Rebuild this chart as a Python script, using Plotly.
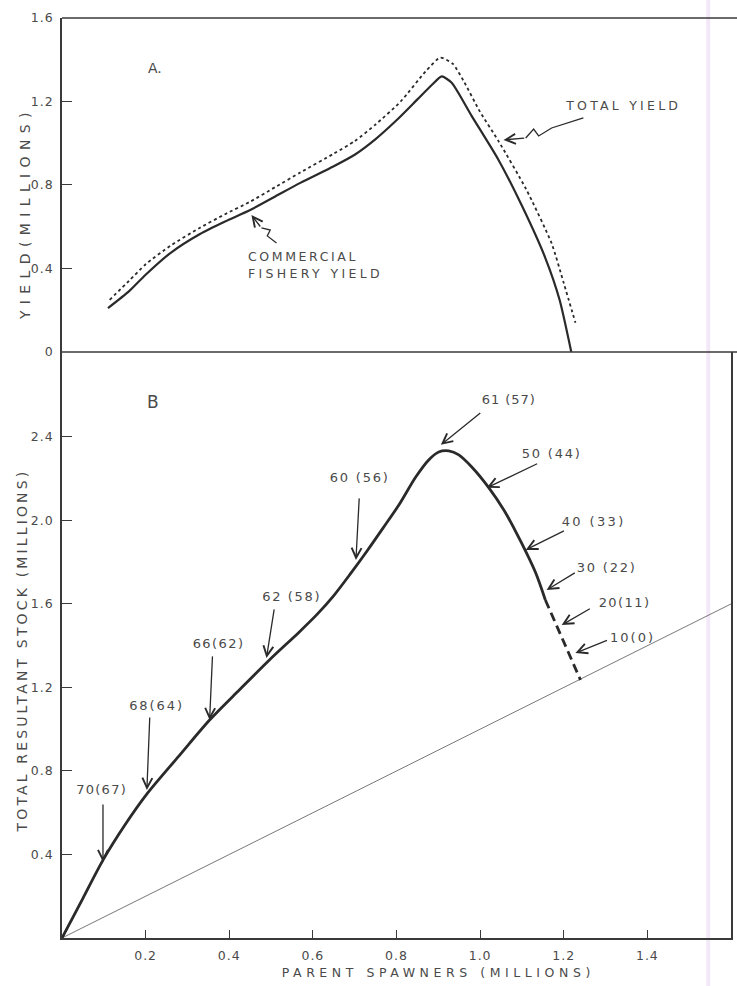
import json
import plotly.graph_objects as go

# ---------------- data ----------------
# Panel A: yields (millions) vs parent spawners (millions)
comm_x = [0.11, 0.16, 0.20, 0.26, 0.33, 0.39, 0.45, 0.51, 0.57, 0.65, 0.70, 0.75, 0.80, 0.85, 0.885, 0.908, 0.932, 0.98, 1.044, 1.10, 1.156, 1.19, 1.218]
comm_y = [0.21, 0.29, 0.37, 0.475, 0.565, 0.625, 0.68, 0.745, 0.81, 0.89, 0.945, 1.02, 1.11, 1.21, 1.28, 1.32, 1.29, 1.13, 0.92, 0.70, 0.45, 0.25, 0.0]

total_x = [0.114, 0.16, 0.20, 0.26, 0.33, 0.39, 0.45, 0.51, 0.57, 0.65, 0.70, 0.75, 0.81, 0.87, 0.905, 0.935, 0.96, 1.00, 1.044, 1.11, 1.171, 1.20, 1.228]
total_y = [0.25, 0.34, 0.42, 0.51, 0.595, 0.66, 0.72, 0.79, 0.86, 0.95, 1.01, 1.09, 1.20, 1.345, 1.41, 1.38, 1.30, 1.15, 1.01, 0.78, 0.52, 0.33, 0.14]

# Panel B: total resultant stock (millions) vs parent spawners
stock_x = [0, 0.05, 0.098, 0.15, 0.205, 0.281, 0.353, 0.424, 0.496, 0.567, 0.61, 0.65, 0.69, 0.73, 0.77, 0.806,
           0.846, 0.877, 0.901, 0.925, 0.949, 0.980, 1.021, 1.061, 1.099, 1.133, 1.156]
stock_y = [0, 0.19, 0.373, 0.54, 0.695, 0.875, 1.044, 1.188, 1.332, 1.465, 1.55, 1.64, 1.745, 1.855, 1.97, 2.075,
           2.208, 2.29, 2.328, 2.333, 2.314, 2.256, 2.156, 2.036, 1.892, 1.748, 1.619]
stock_dash_x = [1.156, 1.24]
stock_dash_y = [1.619, 1.236]

repl_x = [0, 1.6]
repl_y = [0, 1.6]

# arrow labels on panel B: (label, text x, text y, tail x, tail y, tip x, tip y)
b_labels = ["70(67)", "68(64)", "66(62)", "62 (58)", "60 (56)", "61 (57)", "50 (44)", "40 (33)", "30 (22)", "20(11)", "10(0)"]
b_text_x = [0.095, 0.227, 0.374, 0.548, 0.711, 1.068, 1.171, 1.271, 1.302, 1.345, 1.364]
b_text_y = [0.709, 1.116, 1.413, 1.634, 2.204, 2.577, 2.323, 1.993, 1.777, 1.605, 1.437]
b_tail_x = [0.098, 0.210, 0.360, 0.508, 0.711, 1.004, 1.140, 1.204, 1.230, 1.266, 1.307]
b_tail_y = [0.647, 1.063, 1.356, 1.581, 2.113, 2.520, 2.275, 1.954, 1.753, 1.581, 1.428]
b_tip_x = [0.098, 0.203, 0.353, 0.489, 0.703, 0.906, 1.016, 1.109, 1.159, 1.195, 1.228]
b_tip_y = [0.364, 0.709, 1.044, 1.341, 1.811, 2.362, 2.156, 1.859, 1.667, 1.499, 1.365]

x_ticks = [0.2, 0.4, 0.6, 0.8, 1.0, 1.2, 1.4]
x_ticktext = ["0.2", "0.4", "0.6", "0.8", "1.0", "1.2", "1.4"]
ya_ticks = [0, 0.4, 0.8, 1.2, 1.6]
ya_ticktext = ["0", "0.4", "0.8", "1.2", "1.6"]
yb_ticks = [0.4, 0.8, 1.2, 1.6, 2.0, 2.4]
yb_ticktext = ["0.4", "0.8", "1.2", "1.6", "2.0", "2.4"]

# ---------------- styling ----------------
FONT = "DejaVu Sans"
TXT = "#4a4a4a"
INK = "#2a2a2a"
AXC = "#3a3a3a"
SPLIT = 0.637  # bottom panel domain top

fig = go.Figure()

# Panel B traces
fig.add_trace(go.Scatter(x=repl_x, y=repl_y, mode="lines", line=dict(color="#555", width=0.8),
                         xaxis="x", yaxis="y", hoverinfo="skip"))
fig.add_trace(go.Scatter(x=stock_x, y=stock_y, mode="lines",
                         line=dict(color=INK, width=2.8, shape="spline", smoothing=0.8),
                         xaxis="x", yaxis="y"))
fig.add_trace(go.Scatter(x=stock_dash_x, y=stock_dash_y, mode="lines",
                         line=dict(color=INK, width=2.8, dash="9px,5px"),
                         xaxis="x", yaxis="y"))

# Panel A traces
fig.add_trace(go.Scatter(x=total_x, y=total_y, mode="lines",
                         line=dict(color=INK, width=1.8, dash="dot", shape="spline", smoothing=0.6),
                         xaxis="x2", yaxis="y2"))
fig.add_trace(go.Scatter(x=comm_x, y=comm_y, mode="lines",
                         line=dict(color=INK, width=2.2, shape="spline", smoothing=0.6),
                         xaxis="x2", yaxis="y2"))

annotations = []
arrow_common = dict(showarrow=True, arrowhead=5, arrowsize=1.5, arrowwidth=1.3, arrowcolor=INK,
                    text="", standoff=0, startstandoff=0)

for lab, tx, ty, ax_, ay_, px, py in zip(b_labels, b_text_x, b_text_y, b_tail_x, b_tail_y, b_tip_x, b_tip_y):
    annotations.append(dict(x=tx, y=ty, xref="x", yref="y", text=lab, showarrow=False,
                            xanchor="center", yanchor="middle",
                            font=dict(family=FONT, size=13, color=TXT)))
    annotations.append(dict(x=px, y=py, ax=ax_, ay=ay_, xref="x", yref="y", axref="x", ayref="y",
                            **arrow_common))

# Panel letters
annotations.append(dict(x=0.222, y=1.36, xref="x2", yref="y2", text="A.", showarrow=False,
                        font=dict(family=FONT, size=14, color=TXT)))
annotations.append(dict(x=0.217, y=2.568, xref="x", yref="y", text="B", showarrow=False,
                        font=dict(family=FONT, size=17, color=TXT)))

# Panel A labels
annotations.append(dict(x=0.441, y=0.455, xref="x2", yref="y2", text="COMMERCIAL", showarrow=False,
                        xanchor="left", yanchor="middle", align="left", font=dict(family=FONT, size=12.5, color=TXT)))
annotations.append(dict(x=0.441, y=0.378, xref="x2", yref="y2", text="FISHERY YIELD", showarrow=False,
                        xanchor="left", yanchor="middle", align="left", font=dict(family=FONT, size=12.5, color=TXT)))
annotations.append(dict(x=1.342, y=1.183, xref="x2", yref="y2", text="TOTAL YIELD", showarrow=False,
                        xanchor="center", yanchor="middle", font=dict(family=FONT, size=12.5, color=TXT)))
annotations.append(dict(x=0.453, y=0.656, ax=0.477, ay=0.594, xref="x2", yref="y2", axref="x2", ayref="y2",
                        **arrow_common))
annotations.append(dict(x=1.056, y=1.016, ax=1.109, ay=1.025, xref="x2", yref="y2", axref="x2", ayref="y2",
                        **arrow_common))

# Axis titles
annotations.append(dict(x=-0.055, y=0.788, xref="paper", yref="paper", text="YIELD(MILLIONS)",
                        xanchor="center", yanchor="middle",
                        textangle=-90, showarrow=False, font=dict(family=FONT, size=14, color=TXT)))
annotations.append(dict(x=-0.0596, y=0.312, xref="paper", yref="paper", text="TOTAL RESULTANT STOCK (MILLIONS)",
                        xanchor="center", yanchor="middle",
                        textangle=-90, showarrow=False, font=dict(family=FONT, size=14, color=TXT)))
annotations.append(dict(x=0.90, y=-0.037, xref="x", yref="paper", text="PARENT SPAWNERS (MILLIONS)",
                        xanchor="center", yanchor="middle",
                        showarrow=False, font=dict(family=FONT, size=12.5, color=TXT)))

shapes = [
    # squiggles of the panel A arrows
    dict(type="path", xref="x2", yref="y2", path="M0.513,0.522 L0.491,0.556 L0.498,0.584 L0.477,0.594",
         line=dict(color=INK, width=1.3)),
    dict(type="path", xref="x2", yref="y2", path="M1.247,1.121 L1.171,1.073 L1.140,1.035 L1.128,1.068 L1.109,1.025",
         line=dict(color=INK, width=1.3)),
    # panel A frame lines running to the page edge
    dict(type="line", xref="paper", yref="paper", x0=0, x1=1.01, y0=1, y1=1, line=dict(color=AXC, width=1.5)),
    dict(type="line", xref="paper", yref="paper", x0=0, x1=1.01, y0=SPLIT, y1=SPLIT, line=dict(color=AXC, width=1.5)),
    # faint scanner streak
    dict(type="line", xref="paper", yref="paper", x0=0.966, x1=0.966, y0=-0.06, y1=1.03,
         line=dict(color="#f3e8f7", width=4), layer="below"),
]

axis_font = dict(family=FONT, size=12.5, color=TXT)

fig.update_layout(
    width=737, height=986,
    margin=dict(l=62, r=4, t=18, b=48),
    paper_bgcolor="white", plot_bgcolor="white",
    showlegend=False,
    annotations=annotations,
    shapes=shapes,
    xaxis=dict(domain=[0, 1], range=[0, 1.6], anchor="y", showgrid=False, zeroline=False,
               showline=True, linecolor=AXC, linewidth=1.5, mirror=False,
               ticks="inside", ticklen=8, tickwidth=1.3, tickcolor=AXC,
               tickvals=x_ticks, ticktext=x_ticktext, tickfont=axis_font, ticklabelstandoff=5),
    yaxis=dict(domain=[0, SPLIT], range=[0, 2.807], anchor="x", showgrid=False, zeroline=False,
               showline=True, linecolor=AXC, linewidth=1.5, mirror=True,
               ticks="inside", ticklen=10, tickwidth=1.3, tickcolor=AXC,
               tickvals=yb_ticks, ticktext=yb_ticktext, tickfont=axis_font, ticklabelstandoff=4),
    xaxis2=dict(domain=[0, 1], range=[0, 1.6], anchor="y2", showgrid=False, zeroline=False,
                showline=False, showticklabels=False, ticks=""),
    yaxis2=dict(domain=[SPLIT, 1], range=[0, 1.6], anchor="x2", showgrid=False, zeroline=False,
                showline=True, linecolor=AXC, linewidth=1.5, mirror=False,
                ticks="inside", ticklen=10, tickwidth=1.3, tickcolor=AXC,
                tickvals=ya_ticks, ticktext=ya_ticktext, tickfont=axis_font, ticklabelstandoff=4),
)

# target widths (px) of the widely letter-spaced hand lettering
targets = {
    "COMMERCIAL": 110, "FISHERY YIELD": 135, "TOTAL YIELD": 115,
    "YIELD(MILLIONS)": 213, "TOTAL RESULTANT STOCK (MILLIONS)": 363, "PARENT SPAWNERS (MILLIONS)": 313,
    "61 (57)": 54, "50 (44)": 60, "40 (33)": 64, "30 (22)": 60, "20(11)": 52, "10(0)": 45,
    "60 (56)": 60, "62 (58)": 59, "66(62)": 52, "68(64)": 55, "70(67)": 51,
}
post = """
var targets = %s;
var gd = document.getElementById('{plot_id}');
gd.querySelectorAll('text.annotation-text').forEach(function(t){
  var s = t.textContent;
  if (!(s in targets)) return;
  t.style.letterSpacing = '0px';
  var w = t.getComputedTextLength();
  var ls = (targets[s] - w) / s.length;
  t.style.letterSpacing = ls.toFixed(2) + 'px';
});
gd.querySelectorAll('g.xtick text, g.ytick text, g.y2tick text').forEach(function(t){
  t.style.letterSpacing = '1px';
});
""" % json.dumps(targets)

fig.write_html("out.html", post_script=post)
